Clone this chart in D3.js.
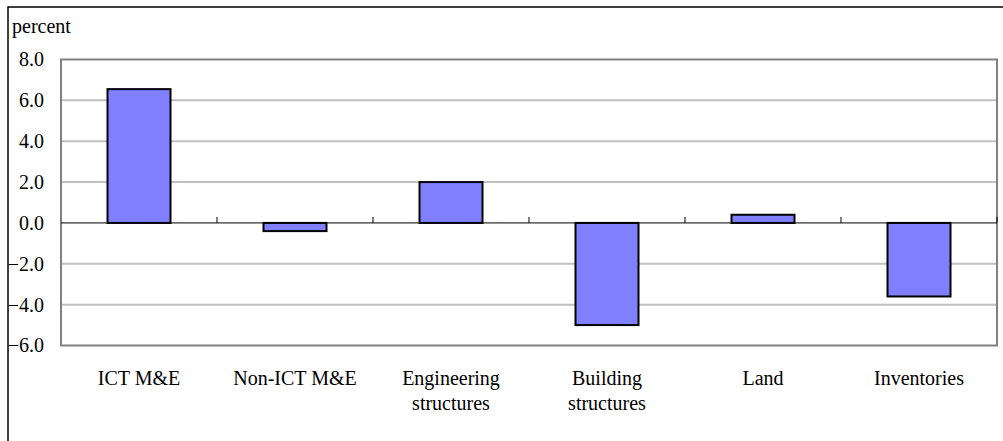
<!DOCTYPE html>
<html>
<head>
<meta charset="utf-8">
<script src="https://cdn.jsdelivr.net/npm/d3@7"></script>
<style>
  html, body { margin: 0; padding: 0; background: #fff; }
  svg { display: block; }
  svg text { font-family: "Liberation Serif", "Times New Roman", serif; fill: #000; }
</style>
</head>
<body>
<svg id="chart" width="1003" height="441" font-family="Liberation Serif, serif"></svg>
<script>
// Contributions by asset type, percent
const categories = ["ICT M&E", "Non-ICT M&E", "Engineering structures", "Building structures", "Land", "Inventories"];
const categoryLines = [["ICT M&E"], ["Non-ICT M&E"], ["Engineering", "structures"], ["Building", "structures"], ["Land"], ["Inventories"]];
const values = [6.55, -0.4, 2.0, -5.0, 0.4, -3.6];
const yTicks = [8, 6, 4, 2, 0, -2, -4, -6];

const FONT = "Liberation Serif, Times New Roman, serif";
const FS = 20;

const svg = d3.select("#chart");
const plot = { left: 61, right: 997, top: 59.5, bottom: 345.5 };

const x = d3.scaleBand().domain(categories).range([plot.left, plot.right]).paddingInner(0).paddingOuter(0);
const y = d3.scaleLinear().domain([-6, 8]).range([plot.bottom, plot.top]);

// Outer frame (extends past the right and bottom edges)
svg.append("rect")
  .attr("x", 8).attr("y", 7).attr("width", 1010).attr("height", 450)
  .attr("fill", "none").attr("stroke", "#000").attr("stroke-width", 1.5);

// Unit label
svg.append("text").attr("x", 12).attr("y", 33)
  .attr("font-family", FONT).attr("font-size", FS).text("percent");

// Gridlines
svg.append("g").selectAll("line")
  .data(yTicks.filter(d => d !== 0 && d !== 8 && d !== -6))
  .join("line")
  .attr("x1", plot.left).attr("x2", plot.right)
  .attr("y1", d => y(d)).attr("y2", d => y(d))
  .attr("stroke", "#c0c0c0").attr("stroke-width", 2);

// Plot frame
svg.append("rect")
  .attr("x", plot.left).attr("y", plot.top)
  .attr("width", plot.right - plot.left).attr("height", plot.bottom - plot.top)
  .attr("fill", "none").attr("stroke", "#808080").attr("stroke-width", 2);

// Y axis labels
const yAxis = d3.axisLeft(y).tickValues(yTicks).tickFormat(d3.format(".1f")).tickSize(0).tickPadding(17);
const gy = svg.append("g").attr("transform", `translate(${plot.left},0)`).call(yAxis);
gy.attr("font-family", FONT).attr("font-size", FS);
gy.select(".domain").remove();
gy.selectAll("text").attr("font-family", FONT).attr("font-size", FS).attr("fill", "#000");

// Bars
const bw = 63;
svg.append("g").selectAll("rect")
  .data(values)
  .join("rect")
  .attr("x", (d, i) => x(categories[i]) + x.bandwidth() / 2 - bw / 2)
  .attr("width", bw)
  .attr("y", d => y(Math.max(0, d)))
  .attr("height", d => Math.abs(y(d) - y(0)))
  .attr("fill", "#8080ff")
  .attr("stroke", "#000")
  .attr("stroke-width", 2);

// Zero line with category ticks
svg.append("line")
  .attr("x1", plot.left).attr("x2", plot.right)
  .attr("y1", y(0)).attr("y2", y(0))
  .attr("stroke", "#000").attr("stroke-width", 1);
const tickXs = categories.map(c => x(c)).slice(1).concat([plot.right]);
svg.append("g").selectAll("line")
  .data(tickXs)
  .join("line")
  .attr("x1", d => d).attr("x2", d => d)
  .attr("y1", y(0)).attr("y2", y(0) - 6)
  .attr("stroke", "#000").attr("stroke-width", 1);

// Category labels
const lbl = svg.append("g").selectAll("text")
  .data(categories)
  .join("text")
  .attr("x", d => x(d) + x.bandwidth() / 2)
  .attr("y", 385)
  .attr("font-family", FONT)
  .attr("font-size", FS)
  .attr("text-anchor", "middle");
lbl.each(function (d, i) {
  d3.select(this).selectAll("tspan")
    .data(categoryLines[i])
    .join("tspan")
    .attr("x", x(d) + x.bandwidth() / 2)
    .attr("dy", (t, j) => j === 0 ? 0 : 25)
    .text(t => t);
});
</script>
</body>
</html>
